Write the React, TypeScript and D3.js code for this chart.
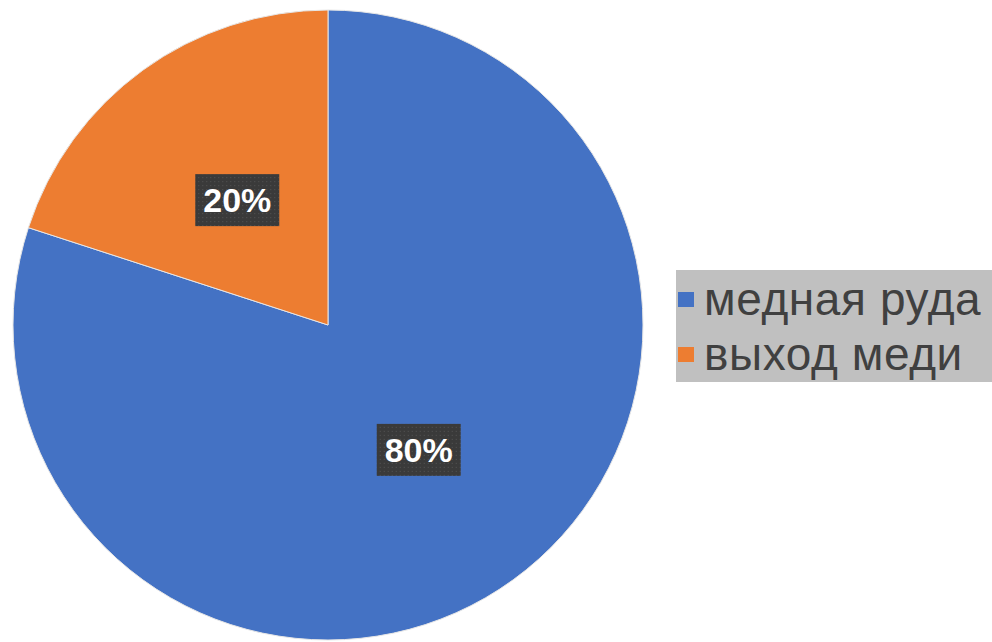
import React, { useEffect, useRef } from 'react';
import * as d3 from 'd3';

const categories = ['медная руда', 'выход меди'];
const values = [80, 20];
const colors = ['#4472C4', '#ED7D31'];

const W = 992;
const H = 642;

const App: React.FC = () => {
  const ref = useRef<SVGSVGElement>(null);

  useEffect(() => {
    const svgEl = d3.select(ref.current);
    svgEl.html('');
    const svg = svgEl.attr('width', W).attr('height', H);

    const defs = svg.append('defs');
    const pat = defs.append('pattern')
      .attr('id', 'dots')
      .attr('width', 4)
      .attr('height', 4)
      .attr('patternUnits', 'userSpaceOnUse');
    pat.append('rect').attr('width', 4).attr('height', 4).attr('fill', '#3a3a3a');
    pat.append('rect').attr('x', 1).attr('y', 1).attr('width', 1).attr('height', 1).attr('fill', '#555');

    const cx = 328;
    const cy = 325;
    const radius = 315;

    const data = categories.map((c, i) => ({ label: c, value: values[i], color: colors[i] }));
    const total = d3.sum(values);

    // 80% slice begins at 12 o'clock going clockwise, 20% slice fills the rest
    const pie = d3.pie<typeof data[0]>().value(d => d.value).sort(null);
    const arc = d3.arc<d3.PieArcDatum<typeof data[0]>>().innerRadius(0).outerRadius(radius);
    const labelArc = d3.arc<d3.PieArcDatum<typeof data[0]>>().innerRadius(radius * 0.49).outerRadius(radius * 0.49);

    const g = svg.append('g').attr('transform', `translate(${cx}, ${cy})`);

    const arcs = pie(data);
    g.selectAll('path')
      .data(arcs)
      .enter()
      .append('path')
      .attr('d', arc)
      .attr('fill', d => d.data.color)
      .attr('stroke', '#e6e6e6')
      .attr('stroke-width', 1);

    const labels = g.selectAll('g.lbl')
      .data(arcs)
      .enter()
      .append('g')
      .attr('class', 'lbl')
      .attr('transform', d => {
        const [x, y] = labelArc.centroid(d);
        return `translate(${x}, ${y})`;
      });

    labels.append('rect')
      .attr('x', -42)
      .attr('y', -26)
      .attr('width', 84)
      .attr('height', 52)
      .attr('fill', 'url(#dots)');

    labels.append('text')
      .attr('text-anchor', 'middle')
      .attr('dy', '0.36em')
      .attr('fill', '#ffffff')
      .style('font-family', 'Arial, "Liberation Sans", sans-serif')
      .style('font-weight', 'bold')
      .style('font-size', '34px')
      .text(d => `${Math.round((d.data.value / total) * 100)}%`);

    // legend
    const legend = svg.append('g');
    legend.append('rect')
      .attr('x', 676)
      .attr('y', 270)
      .attr('width', W - 676)
      .attr('height', 112)
      .attr('fill', '#c0c0c0');

    const rows = legend.selectAll('g.row')
      .data(data)
      .enter()
      .append('g')
      .attr('class', 'row')
      .attr('transform', (d, i) => `translate(0, ${i * 55})`);

    rows.append('rect')
      .attr('x', 678)
      .attr('y', 292)
      .attr('width', 16)
      .attr('height', 15)
      .attr('fill', d => d.color);

    rows.append('text')
      .attr('x', 704)
      .attr('y', 315)
      .attr('fill', '#404040')
      .style('font-family', 'Arial, "Liberation Sans", sans-serif')
      .style('font-size', '46px')
      .style('letter-spacing', '0.6px')
      .text(d => d.label);
  }, []);

  return (
    <svg ref={ref} style={{ position: 'absolute', left: 0, top: 0, background: '#fff' }}></svg>
  );
};

export default App;
